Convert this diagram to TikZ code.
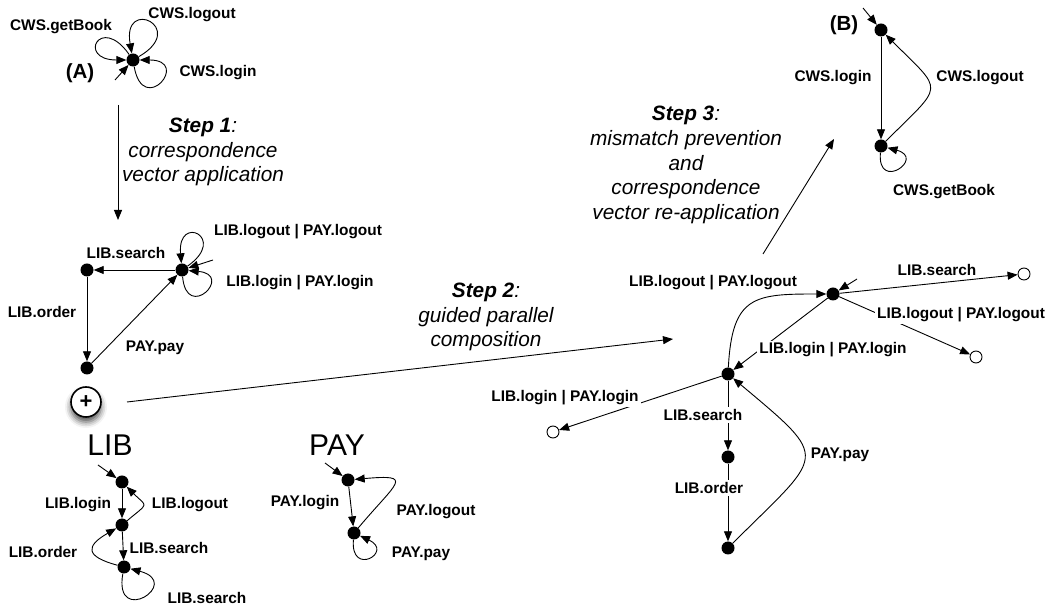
\documentclass[tikz,border=0pt]{standalone}
\usepackage{fontspec}
\setmainfont{Liberation Sans}
\usetikzlibrary{arrows.meta,shadows.blur}

\tikzset{
  state/.style   = {circle, fill=black, inner sep=0pt, minimum size=13pt},
  sink/.style    = {circle, draw=black, line width=0.9pt, fill=white,
                    inner sep=0pt, minimum size=12pt},
  trans/.style   = {-{Triangle[length=10pt,width=8pt]}, line width=0.9pt},
  lbl/.style     = {font=\fontsize{15.4}{17}\selectfont\bfseries, inner sep=1pt},
  cutlbl/.style  = {lbl, fill=white, inner sep=2pt},
  steptxt/.style = {font=\fontsize{20.8}{24.8}\selectfont\itshape, align=center},
  bigname/.style = {font=\fontsize{30}{32}\selectfont},
  tag/.style     = {font=\fontsize{20.5}{22}\selectfont\bfseries},
  plus/.style    = {circle, draw=black, line width=1.6pt, fill=white,
                    minimum size=30pt, inner sep=0pt,
                    font=\fontsize{22}{22}\selectfont\bfseries,
                    blur shadow={shadow xshift=0pt, shadow yshift=-5pt,
                                 shadow blur radius=6pt, shadow opacity=70}},
}

\begin{document}
\begin{tikzpicture}[x=1pt, y=1pt]
  \useasboundingbox (0,0) rectangle (1052,610);

  % (A): the choreography automaton
  \node[state] (a0) at (133,550) {};
  \node[tag] (atag) at (80,537) {(A)};
  \coordinate (a0in) at (115,530);
  \draw[trans] (a0in) -- (a0);
  \draw[trans] (a0) to[out=30, in=100, min distance=58pt] (a0);
  \draw[trans] (a0) to[out=125, in=180, min distance=50pt] (a0);
  \draw[trans] (a0) to[out=-80, in=0, min distance=52pt] (a0);
  \node[lbl] (aget) at (61,583) {CWS.getBook};
  \node[lbl] (aout) at (192,595) {CWS.logout};
  \node[lbl] (ain) at (218,537) {CWS.login};

  % step 1
  \coordinate (s1top) at (118,505);
  \coordinate (s1bot) at (118,390);
  \draw[trans] (s1top) -- (s1bot);
  \node[steptxt] (s1txt) at (203,458)
    {\textbf{Step 1}:\\correspondence\\vector application};

  % vector applied
  \node[state] (m0) at (182,340) {};
  \node[state] (m1) at (87,340) {};
  \node[state] (m2) at (87,242) {};
  \coordinate (m0in) at (213,350);
  \draw[trans] (m0in) -- (m0);
  \draw[trans] (m0) -- (m1);
  \draw[trans] (m1) -- (m2);
  \draw[trans] (m2) -- (m0);
  \draw[trans] (m0) to[out=35, in=95, min distance=50pt] (m0);
  \draw[trans] (m0) to[out=-85, in=-5, min distance=46pt] (m0);
  \node[lbl] (msearch) at (126,357) {LIB.search};
  \node[lbl] (morder) at (42,298) {LIB.order};
  \node[lbl] (mpay) at (155,262) {PAY.pay};
  \node[lbl] (mout) at (298,378) {LIB.logout | PAY.logout};
  \node[lbl] (min) at (300,327) {LIB.login | PAY.login};

  % composition
  \node[plus] (plus) at (86,208) {+};
  \coordinate (s2start) at (127,208);
  \coordinate (s2end) at (673,271);
  \draw[trans] (s2start) -- (s2end);
  \node[steptxt] (s2txt) at (486,293)
    {\textbf{Step 2}:\\guided parallel\\composition};

  % LIB
  \node[bigname] (libname) at (110,165) {LIB};
  \node[state] (l0) at (122,128) {};
  \node[state] (l1) at (122,85) {};
  \node[state] (l2) at (124,43) {};
  \coordinate (l0in) at (98,145);
  \draw[trans] (l0in) -- (l0);
  \draw[trans] (l0) -- (l1);
  \draw[trans] (l1) -- (l2);
  \draw[trans] (l1) to[out=40, in=-45, looseness=2.2] (l0);
  \draw[trans] (l2) to[out=165, in=-150, looseness=2.4] (l1);
  \draw[trans] (l2) to[out=-100, in=-15, min distance=55pt] (l2);
  \node[lbl] (llogin) at (78,105) {LIB.login};
  \node[lbl] (llogout) at (190,105) {LIB.logout};
  \node[lbl] (lorder) at (43,58) {LIB.order};
  \node[lbl] (lsearch) at (169,62) {LIB.search};
  \node[lbl] (lsearchb) at (207,12) {LIB.search};

  % PAY
  \node[bigname] (payname) at (337,165) {PAY};
  \node[state] (p0) at (348,130) {};
  \node[state] (p1) at (354,77) {};
  \coordinate (p0in) at (325,147);
  \draw[trans] (p0in) -- (p0);
  \draw[trans] (p0) -- (p1);
  \draw[trans] (p1) to[out=50, in=5, looseness=3.2] (p0);
  \draw[trans] (p1) to[out=-95, in=-25, min distance=38pt] (p1);
  \node[lbl] (plogin) at (305,107) {PAY.login};
  \node[lbl] (plogout) at (436,98) {PAY.logout};
  \node[lbl] (ppay) at (421,56) {PAY.pay};

  % composed automaton
  \node[state] (r0) at (833,316) {};
  \node[state] (r1) at (728,236) {};
  \node[state] (r2) at (728,153) {};
  \node[state] (r3) at (728,62) {};
  \node[sink] (e1) at (1024,336) {};
  \node[sink] (e2) at (976,253) {};
  \node[sink] (e3) at (553,178) {};
  \coordinate (r0in) at (857,331);
  \draw[trans] (r0in) -- (r0);
  \draw[trans] (r1) to[out=87, in=180, looseness=1.5] (r0);
  \draw[trans] (r0) -- (r1);
  \draw[trans] (r0) -- (e1);
  \draw[trans] (r0) -- (e2);
  \draw[trans] (r1) -- (e3);
  \draw[trans] (r1) -- (r2);
  \draw[trans] (r2) -- (r3);
  \draw[trans] (r3) to[out=45, in=-40, looseness=2] (r1);
  \node[lbl] (routa) at (713,327) {LIB.logout | PAY.logout};
  \node[cutlbl] (rsearch) at (937,340) {LIB.search};
  \node[cutlbl] (routb) at (961,295) {LIB.logout | PAY.logout};
  \node[cutlbl] (rina) at (833,260) {LIB.login | PAY.login};
  \node[cutlbl] (rinb) at (565,212) {LIB.login | PAY.login};
  \node[cutlbl] (rsearchb) at (703,195) {LIB.search};
  \node[cutlbl] (rorder) at (709,122) {LIB.order};
  \node[cutlbl] (rpay) at (840,155) {PAY.pay};

  % step 3
  \coordinate (s3start) at (763,356);
  \coordinate (s3end) at (834,471);
  \draw[trans] (s3start) -- (s3end);
  \node[steptxt] (s3txt) at (686,445)
    {\textbf{Step 3}:\\mismatch prevention\\and\\correspondence\\vector re-application};

  % (B): the adapted choreography
  \node[state] (b0) at (881,580) {};
  \node[state] (b1) at (881,464) {};
  \node[tag] (btag) at (844,585) {(B)};
  \coordinate (b0in) at (863,602);
  \draw[trans] (b0in) -- (b0);
  \draw[trans] (b0) -- (b1);
  \draw[trans] (b1) to[out=45, in=-45, looseness=2] (b0);
  \draw[trans] (b1) to[out=-95, in=-15, min distance=40pt] (b1);
  \node[lbl] (bin) at (833,532) {CWS.login};
  \node[lbl] (bout) at (980,532) {CWS.logout};
  \node[lbl] (bget) at (944,418) {CWS.getBook};
\end{tikzpicture}
\end{document}
